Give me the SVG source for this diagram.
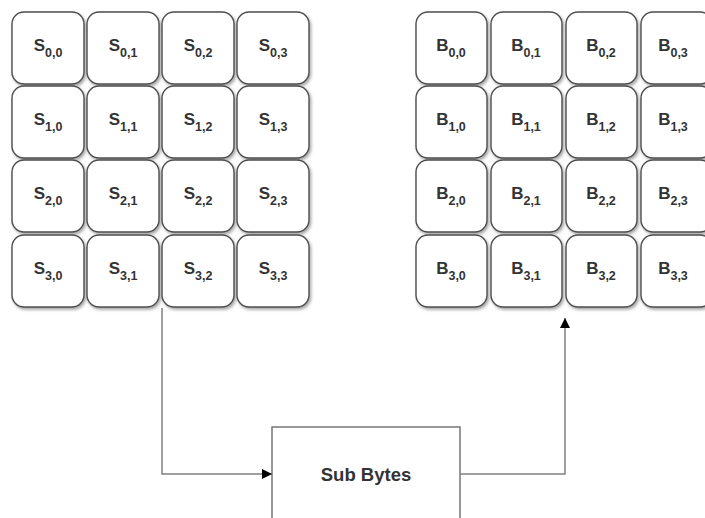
<svg xmlns="http://www.w3.org/2000/svg" width="705" height="518" viewBox="0 0 705 518">
  <defs>
    <filter id="shadow" x="-10%" y="-10%" width="130%" height="130%">
      <feDropShadow dx="1.5" dy="2" stdDeviation="1.5" flood-color="#000" flood-opacity="0.35"/>
    </filter>
    <marker id="arrow" viewBox="0 0 10 10" refX="10" refY="5" markerWidth="10" markerHeight="10" markerUnits="userSpaceOnUse" orient="auto">
      <path d="M0,0 L10,5 L0,10 Z" fill="#000"/>
    </marker>
  </defs>
  <style>
    .cell { fill: #fff; stroke: #4d4d4d; stroke-width: 1.4; filter: url(#shadow); }
    .lbl { font-family: "Liberation Sans", Arial, sans-serif; font-weight: bold; font-size: 17px; fill: #333; text-anchor: middle; }
    .sub { font-size: 12.5px; }
    .box { fill: #fff; stroke: #777; stroke-width: 1.5; }
    .title { font-family: "Liberation Sans", Arial, sans-serif; font-weight: bold; font-size: 18.5px; fill: #333; text-anchor: middle; }
    .edge { fill: none; stroke: #808080; stroke-width: 1.5; marker-end: url(#arrow); }
  </style>

  <!-- State matrix S -->
  <g id="state">
    <g id="s00"><rect class="cell" x="12" y="12" width="72" height="72" rx="12"/><text class="lbl" x="48" y="51">S<tspan class="sub" dy="6">0,0</tspan></text></g>
    <g id="s01"><rect class="cell" x="87" y="12" width="72" height="72" rx="12"/><text class="lbl" x="123" y="51">S<tspan class="sub" dy="6">0,1</tspan></text></g>
    <g id="s02"><rect class="cell" x="162" y="12" width="72" height="72" rx="12"/><text class="lbl" x="198" y="51">S<tspan class="sub" dy="6">0,2</tspan></text></g>
    <g id="s03"><rect class="cell" x="237" y="12" width="72" height="72" rx="12"/><text class="lbl" x="273" y="51">S<tspan class="sub" dy="6">0,3</tspan></text></g>

    <g id="s10"><rect class="cell" x="12" y="86" width="72" height="72" rx="12"/><text class="lbl" x="48" y="125">S<tspan class="sub" dy="6">1,0</tspan></text></g>
    <g id="s11"><rect class="cell" x="87" y="86" width="72" height="72" rx="12"/><text class="lbl" x="123" y="125">S<tspan class="sub" dy="6">1,1</tspan></text></g>
    <g id="s12"><rect class="cell" x="162" y="86" width="72" height="72" rx="12"/><text class="lbl" x="198" y="125">S<tspan class="sub" dy="6">1,2</tspan></text></g>
    <g id="s13"><rect class="cell" x="237" y="86" width="72" height="72" rx="12"/><text class="lbl" x="273" y="125">S<tspan class="sub" dy="6">1,3</tspan></text></g>

    <g id="s20"><rect class="cell" x="12" y="160" width="72" height="72" rx="12"/><text class="lbl" x="48" y="199">S<tspan class="sub" dy="6">2,0</tspan></text></g>
    <g id="s21"><rect class="cell" x="87" y="160" width="72" height="72" rx="12"/><text class="lbl" x="123" y="199">S<tspan class="sub" dy="6">2,1</tspan></text></g>
    <g id="s22"><rect class="cell" x="162" y="160" width="72" height="72" rx="12"/><text class="lbl" x="198" y="199">S<tspan class="sub" dy="6">2,2</tspan></text></g>
    <g id="s23"><rect class="cell" x="237" y="160" width="72" height="72" rx="12"/><text class="lbl" x="273" y="199">S<tspan class="sub" dy="6">2,3</tspan></text></g>

    <g id="s30"><rect class="cell" x="12" y="235" width="72" height="72" rx="12"/><text class="lbl" x="48" y="274">S<tspan class="sub" dy="6">3,0</tspan></text></g>
    <g id="s31"><rect class="cell" x="87" y="235" width="72" height="72" rx="12"/><text class="lbl" x="123" y="274">S<tspan class="sub" dy="6">3,1</tspan></text></g>
    <g id="s32"><rect class="cell" x="162" y="235" width="72" height="72" rx="12"/><text class="lbl" x="198" y="274">S<tspan class="sub" dy="6">3,2</tspan></text></g>
    <g id="s33"><rect class="cell" x="237" y="235" width="72" height="72" rx="12"/><text class="lbl" x="273" y="274">S<tspan class="sub" dy="6">3,3</tspan></text></g>
  </g>

  <!-- Output matrix B -->
  <g id="output">
    <g id="b00"><rect class="cell" x="416" y="12" width="71" height="72" rx="12"/><text class="lbl" x="451" y="51">B<tspan class="sub" dy="6">0,0</tspan></text></g>
    <g id="b01"><rect class="cell" x="491" y="12" width="71" height="72" rx="12"/><text class="lbl" x="526" y="51">B<tspan class="sub" dy="6">0,1</tspan></text></g>
    <g id="b02"><rect class="cell" x="566" y="12" width="71" height="72" rx="12"/><text class="lbl" x="601" y="51">B<tspan class="sub" dy="6">0,2</tspan></text></g>
    <g id="b03"><rect class="cell" x="641" y="12" width="71" height="72" rx="12"/><text class="lbl" x="673" y="51">B<tspan class="sub" dy="6">0,3</tspan></text></g>

    <g id="b10"><rect class="cell" x="416" y="86" width="71" height="72" rx="12"/><text class="lbl" x="451" y="125">B<tspan class="sub" dy="6">1,0</tspan></text></g>
    <g id="b11"><rect class="cell" x="491" y="86" width="71" height="72" rx="12"/><text class="lbl" x="526" y="125">B<tspan class="sub" dy="6">1,1</tspan></text></g>
    <g id="b12"><rect class="cell" x="566" y="86" width="71" height="72" rx="12"/><text class="lbl" x="601" y="125">B<tspan class="sub" dy="6">1,2</tspan></text></g>
    <g id="b13"><rect class="cell" x="641" y="86" width="71" height="72" rx="12"/><text class="lbl" x="673" y="125">B<tspan class="sub" dy="6">1,3</tspan></text></g>

    <g id="b20"><rect class="cell" x="416" y="160" width="71" height="72" rx="12"/><text class="lbl" x="451" y="199">B<tspan class="sub" dy="6">2,0</tspan></text></g>
    <g id="b21"><rect class="cell" x="491" y="160" width="71" height="72" rx="12"/><text class="lbl" x="526" y="199">B<tspan class="sub" dy="6">2,1</tspan></text></g>
    <g id="b22"><rect class="cell" x="566" y="160" width="71" height="72" rx="12"/><text class="lbl" x="601" y="199">B<tspan class="sub" dy="6">2,2</tspan></text></g>
    <g id="b23"><rect class="cell" x="641" y="160" width="71" height="72" rx="12"/><text class="lbl" x="673" y="199">B<tspan class="sub" dy="6">2,3</tspan></text></g>

    <g id="b30"><rect class="cell" x="416" y="235" width="71" height="72" rx="12"/><text class="lbl" x="451" y="274">B<tspan class="sub" dy="6">3,0</tspan></text></g>
    <g id="b31"><rect class="cell" x="491" y="235" width="71" height="72" rx="12"/><text class="lbl" x="526" y="274">B<tspan class="sub" dy="6">3,1</tspan></text></g>
    <g id="b32"><rect class="cell" x="566" y="235" width="71" height="72" rx="12"/><text class="lbl" x="601" y="274">B<tspan class="sub" dy="6">3,2</tspan></text></g>
    <g id="b33"><rect class="cell" x="641" y="235" width="71" height="72" rx="12"/><text class="lbl" x="673" y="274">B<tspan class="sub" dy="6">3,3</tspan></text></g>
  </g>

  <!-- Sub Bytes operation -->
  <g id="subbytes">
    <rect class="box" x="272" y="427" width="188" height="110"/>
    <text class="title" x="366" y="481">Sub Bytes</text>
  </g>

  <!-- Connectors -->
  <g id="connectors">
    <path class="edge" d="M162,308 L162,474 L272,474"/>
    <path class="edge" d="M460,474 L565,474 L565,318"/>
  </g>
</svg>
